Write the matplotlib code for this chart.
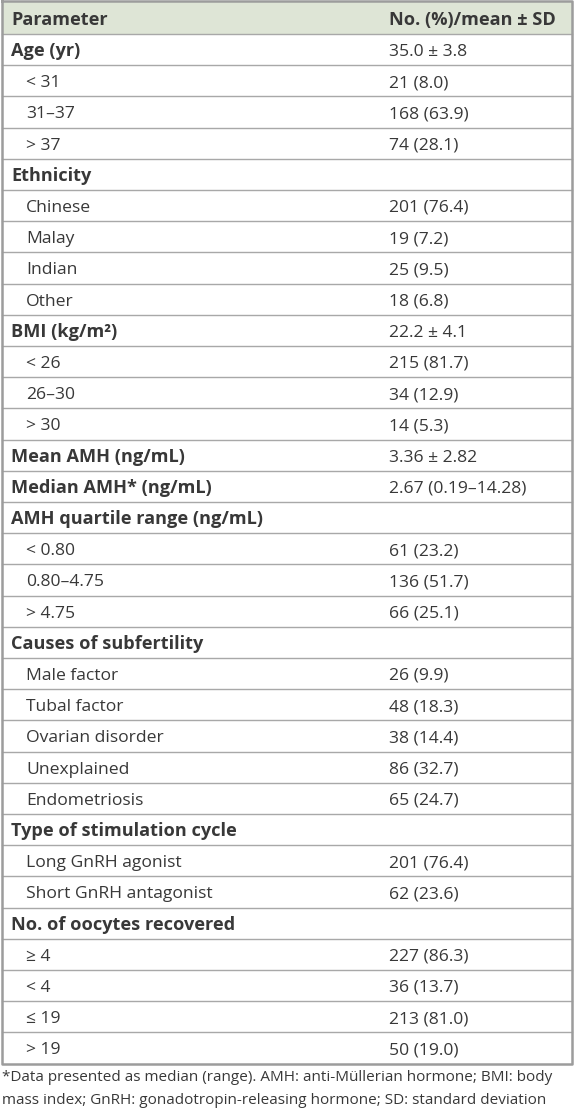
import matplotlib.pyplot as plt
from matplotlib.patches import Rectangle

plt.rcParams['font.family'] = ['Open Sans', 'DejaVu Sans']

header = ['Parameter', 'No. (%)/mean ± SD']

parameters = [
    'Age (yr)', '< 31', '31–37', '> 37',
    'Ethnicity', 'Chinese', 'Malay', 'Indian', 'Other',
    'BMI (kg/m²)', '< 26', '26–30', '> 30',
    'Mean AMH (ng/mL)', 'Median AMH* (ng/mL)',
    'AMH quartile range (ng/mL)', '< 0.80', '0.80–4.75', '> 4.75',
    'Causes of subfertility', 'Male factor', 'Tubal factor', 'Ovarian disorder',
    'Unexplained', 'Endometriosis',
    'Type of stimulation cycle', 'Long GnRH agonist', 'Short GnRH antagonist',
    'No. of oocytes recovered', '≥ 4', '< 4', '≤ 19', '> 19',
]
values = [
    '35.0 ± 3.8', '21 (8.0)', '168 (63.9)', '74 (28.1)',
    '', '201 (76.4)', '19 (7.2)', '25 (9.5)', '18 (6.8)',
    '22.2 ± 4.1', '215 (81.7)', '34 (12.9)', '14 (5.3)',
    '3.36 ± 2.82', '2.67 (0.19–14.28)',
    '', '61 (23.2)', '136 (51.7)', '66 (25.1)',
    '', '26 (9.9)', '48 (18.3)', '38 (14.4)', '86 (32.7)', '65 (24.7)',
    '', '201 (76.4)', '62 (23.6)',
    '', '227 (86.3)', '36 (13.7)', '213 (81.0)', '50 (19.0)',
]
# 1 = bold group heading, 0 = indented sub-row
is_heading = [
    1, 0, 0, 0,
    1, 0, 0, 0, 0,
    1, 0, 0, 0,
    1, 1,
    1, 0, 0, 0,
    1, 0, 0, 0, 0, 0,
    1, 0, 0,
    1, 0, 0, 0, 0,
]
footnote = ['*Data presented as median (range). AMH: anti-Müllerian hormone; BMI: body',
            'mass index; GnRH: gonadotropin-releasing hormone; SD: standard deviation']

W, H = 574, 1114
fig = plt.figure(figsize=(W / 100, H / 100), dpi=100)
ax = fig.add_axes([0, 0, 1, 1])
ax.set_xlim(0, W)
ax.set_ylim(H, 0)
ax.axis('off')

text_col = '#383838'
line_col = '#a8a8a8'
left, right = 2, 572
top, head_bot, row_h = 1, 34, 31.2
x_param, x_indent, x_val = 11, 26, 389
fs, fs_bold = 12.6, 13.1
base_off = 6.3  # baseline below row centre

# header
ax.add_patch(Rectangle((left, top), right - left, head_bot - top,
                       facecolor='#dee5d6', edgecolor='none'))
hy = (top + head_bot) / 2 + base_off + 0.8
ax.text(x_param, hy, header[0], fontsize=fs_bold, fontweight='bold',
        color=text_col, va='baseline')
ax.text(x_val, hy, header[1], fontsize=fs_bold, fontweight='bold',
        color=text_col, va='baseline')

n = len(parameters)
for i, (p, v, hd) in enumerate(zip(parameters, values, is_heading)):
    y0 = head_bot + i * row_h
    yb = y0 + row_h / 2 + base_off
    ax.text(x_param if hd else x_indent, yb, p,
            fontsize=fs_bold if hd else fs,
            fontweight='bold' if hd else 'normal', color=text_col, va='baseline')
    if v:
        ax.text(x_val, yb, v, fontsize=fs, color=text_col, va='baseline')
    ax.plot([left, right], [y0, y0], color=line_col, lw=1.0)

bottom = head_bot + n * row_h
ax.plot([left, right, right, left, left], [top, top, bottom, bottom, top],
        color='#9c9c9c', lw=1.8)

for k, line in enumerate(footnote):
    ax.text(2, 1081 + k * 23, line, fontsize=11, color=text_col, va='baseline')

fig.savefig('out.png', dpi=100)
